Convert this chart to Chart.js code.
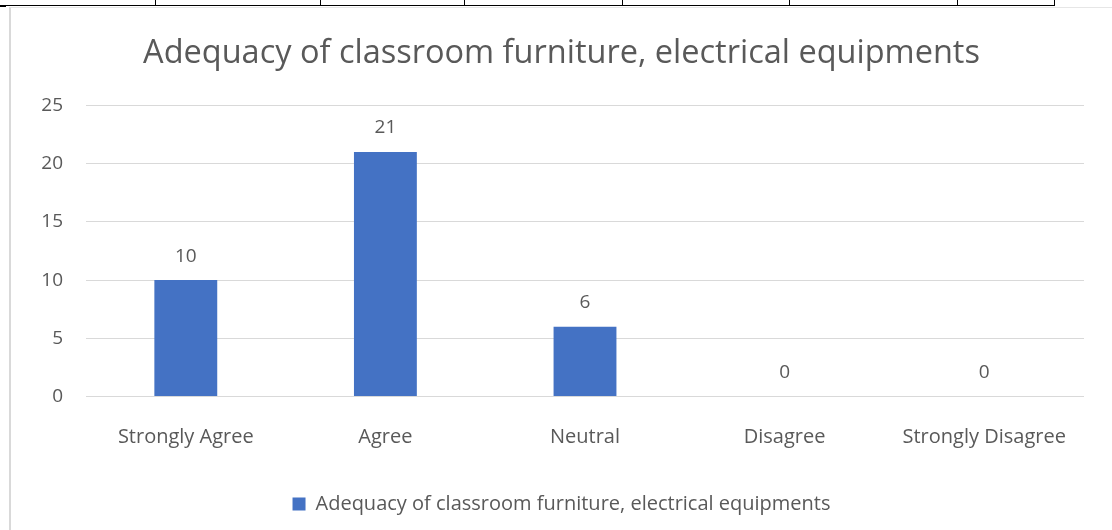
<!DOCTYPE html>
<html>
<head>
<meta charset="utf-8">
<script src="https://cdn.jsdelivr.net/npm/chart.js@4/dist/chart.umd.min.js"></script>
<style>
  html, body { margin:0; padding:0; background:#fff; }
  body { width:1112px; height:530px; position:relative; overflow:hidden; }
  .hline { position:absolute; left:0; top:5px; width:1055px; height:1px; background:#000; }
  .vline { position:absolute; top:0; width:1px; height:6px; background:#000; }
  .corner { position:absolute; left:0; top:5px; width:6px; height:2px; background:#000; }
  #frame { position:absolute; left:9px; top:7px; width:1103px; height:523px;
           border-left:2px solid #d9d9d9; border-top:1px solid #e6e6e6; box-sizing:border-box; }
  #wrap { position:absolute; left:11px; top:8px; width:1101px; height:522px; }
</style>
</head>
<body>
<div class="hline"></div>
<div class="corner"></div>
<div class="vline" style="left:155px"></div>
<div class="vline" style="left:320px"></div>
<div class="vline" style="left:464px"></div>
<div class="vline" style="left:622px"></div>
<div class="vline" style="left:789px"></div>
<div class="vline" style="left:957px"></div>
<div class="vline" style="left:1054px"></div>
<div id="frame"></div>
<div id="wrap"><canvas id="chart"></canvas></div>
<script>
const chartTitle = "Adequacy of classroom furniture, electrical equipments";
const categories = ["Strongly Agree", "Agree", "Neutral", "Disagree", "Strongly Disagree"];
const seriesName = "Adequacy of classroom furniture, electrical equipments";
const values = [10, 21, 6, 0, 0];
const yTicks = [0, 5, 10, 15, 20, 25];

const textGray = "#595959";
const fontFam = "'Open Sans', Lato, sans-serif";

// value labels above each bar
const barLabels = {
  id: "barLabels",
  afterDatasetsDraw(chart){
    const ctx = chart.ctx;
    const meta = chart.getDatasetMeta(0);
    ctx.save();
    ctx.fillStyle = textGray;
    ctx.font = "19px " + fontFam;
    ctx.textAlign = "center";
    ctx.textBaseline = "middle";
    meta.data.forEach((bar, i)=>{
      ctx.fillText(String(values[i]), bar.x, bar.y - 24);
    });
    ctx.restore();
  }
};

new Chart(document.getElementById("chart"), {
  type: "bar",
  data: {
    labels: categories,
    datasets: [{
      label: seriesName,
      data: values,
      backgroundColor: "#4472c4",
      categoryPercentage: 1,
      barPercentage: 0.315
    }]
  },
  options: {
    responsive: true,
    maintainAspectRatio: false,
    animation: false,
    layout: { padding: { left: 28, right: 28, top: 0, bottom: 6 } },
    plugins: {
      title: {
        display: true,
        text: chartTitle,
        color: textGray,
        font: { family: fontFam, size: 32.5, weight: "normal" },
        padding: { top: 26, bottom: 32.5 }
      },
      legend: {
        position: "bottom",
        labels: {
          color: textGray,
          font: { family: fontFam, size: 20 },
          boxWidth: 13,
          boxHeight: 13,
          padding: 23.5
        }
      },
      tooltip: { enabled: false }
    },
    scales: {
      x: {
        grid: { display: false },
        border: { display: false },
        ticks: { color: textGray, font: { family: fontFam, size: 20 }, padding: 21, maxRotation: 0 }
      },
      y: {
        min: yTicks[0],
        max: yTicks[yTicks.length - 1],
        afterBuildTicks(axis){ axis.ticks = yTicks.map(v=>({ value: v })); },
        afterFit(axis){ axis.width = 47; },
        grid: { color: "#d9d9d9", drawTicks: false, lineWidth: 1 },
        border: { display: false },
        ticks: { color: textGray, font: { family: fontFam, size: 19 }, padding: 23 }
      }
    }
  },
  plugins: [barLabels]
});
</script>
</body>
</html>
